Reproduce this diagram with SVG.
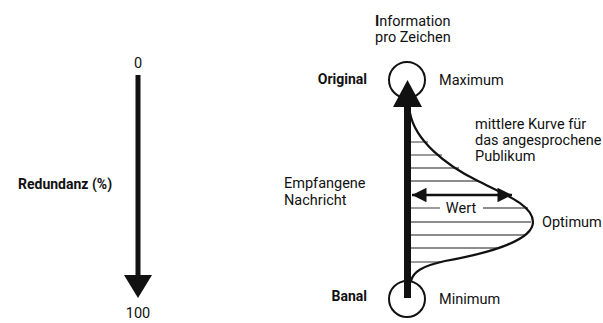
<svg xmlns="http://www.w3.org/2000/svg" width="603" height="323" viewBox="0 0 603 323">
  <style>
    text { font-family: Roboto, "Liberation Sans", sans-serif; fill: #111; font-size: 14.5px; }
    .b { font-weight: bold; font-size: 14px; }
    .mid { text-anchor: middle; }
    .end { text-anchor: end; }
    .hatch { stroke: #666; stroke-width: 1.3; fill: none; }
    .ink { fill: #111; }
  </style>
  <defs>
    <marker id="head" viewBox="0 0 10 10" refX="10" refY="5" markerWidth="6.4" markerHeight="5.8" markerUnits="strokeWidth" orient="auto-start-reverse">
      <path d="M0,0 L10,5 L0,10 Z" fill="#111"/>
    </marker>
  </defs>

  <!-- redundancy scale -->
  <g id="scale">
    <text x="138" y="68" class="mid">0</text>
    <rect x="135.5" y="75" width="5" height="202" class="ink"/>
    <polygon points="124,275 152,275 138,298" class="ink"/>
    <text x="138" y="318" class="mid">100</text>
    <text x="18" y="189" class="b">Redundanz (%)</text>
  </g>

  <!-- axis of the received message -->
  <g id="axis-labels">
    <text x="375" y="26"><tspan font-weight="bold">I</tspan>nformation</text>
    <text x="375" y="42">pro Zeichen</text>
    <text x="367" y="84" class="b end">Original</text>
    <text x="367" y="301" class="b end">Banal</text>
    <text x="284" y="188">Empfangene</text>
    <text x="284" y="205">Nachricht</text>
  </g>

  <g id="max-node">
    <circle cx="407" cy="80" r="18" fill="none" stroke="#111" stroke-width="2"/>
    <text x="439" y="85">Maximum</text>
  </g>

  <g id="min-node">
    <circle cx="407" cy="299" r="18" fill="none" stroke="#111" stroke-width="2"/>
    <text x="439" y="304">Minimum</text>
  </g>

  <!-- distribution curve with hatching -->
  <g id="curve">
    <g class="hatch">
      <line x1="410" y1="142" x2="428" y2="142"/>
      <line x1="410" y1="155" x2="442" y2="155"/>
      <line x1="410" y1="168" x2="459" y2="168"/>
      <line x1="410" y1="181" x2="479" y2="181"/>
      <line x1="410" y1="208" x2="440" y2="208"/>
      <line x1="483" y1="208" x2="528" y2="208"/>
      <line x1="410" y1="222" x2="531" y2="222"/>
      <line x1="410" y1="235" x2="525" y2="235"/>
      <line x1="410" y1="248" x2="497" y2="248"/>
      <line x1="410" y1="262" x2="440" y2="262"/>
    </g>
    <path d="M410,113 C415,140 445,165 478,181 C504,194 533,205 533,222 C533,240 490,253 445,261 C422,266 413,272 411,281" fill="none" stroke="#111" stroke-width="2.2"/>
    <text x="461" y="213" class="mid">Wert</text>
    <text x="475" y="129">mittlere Kurve für</text>
    <text x="475" y="145">das angesprochene</text>
    <text x="475" y="161">Publikum</text>
    <text x="542" y="227">Optimum</text>
  </g>

  <!-- connectors -->
  <g id="connectors">
    <rect x="404" y="104" width="7" height="194" class="ink"/>
    <polygon points="393,107 422,107 407.5,80" class="ink"/>
    <line x1="412" y1="195" x2="512" y2="195" stroke="#111" stroke-width="2.5" marker-start="url(#head)" marker-end="url(#head)"/>
  </g>
</svg>
